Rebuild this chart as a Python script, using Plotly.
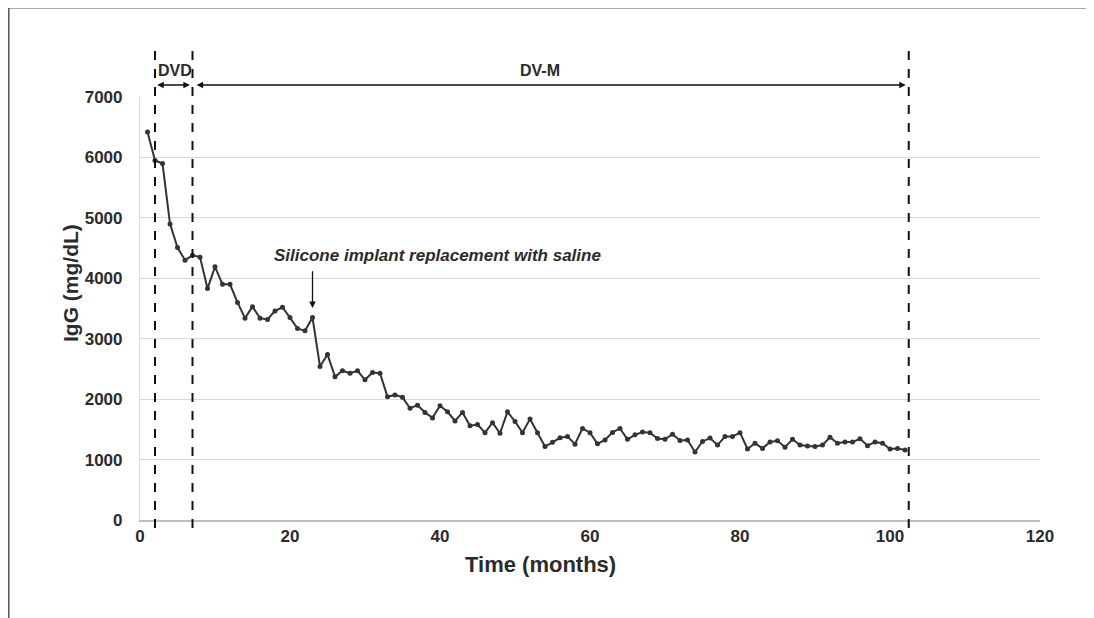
import plotly.graph_objects as go

months = [1, 2, 3, 4, 5, 6, 7, 8, 9, 10, 11, 12, 13, 14, 15, 16, 17, 18, 19, 20,
          21, 22, 23, 24, 25, 26, 27, 28, 29, 30, 31, 32, 33, 34, 35, 36, 37, 38, 39, 40,
          41, 42, 43, 44, 45, 46, 47, 48, 49, 50, 51, 52, 53, 54, 55, 56, 57, 58, 59, 60,
          61, 62, 63, 64, 65, 66, 67, 68, 69, 70, 71, 72, 73, 74, 75, 76, 77, 78, 79, 80,
          81, 82, 83, 84, 85, 86, 87, 88, 89, 90, 91, 92, 93, 94, 95, 96, 97, 98, 99, 100,
          101, 102]
igg = [6420, 5950, 5900, 4900, 4510, 4300, 4380, 4350, 3830, 4190,
       3900, 3900, 3600, 3340, 3530, 3340, 3320, 3460, 3520, 3350,
       3170, 3130, 3350, 2540, 2740, 2370, 2470, 2430, 2470, 2320,
       2440, 2430, 2040, 2070, 2030, 1850, 1900, 1780, 1690, 1890,
       1790, 1640, 1780, 1560, 1580, 1445, 1610, 1435, 1790, 1630,
       1445, 1670, 1445, 1215, 1285, 1360, 1380, 1255, 1515, 1445,
       1260, 1325, 1450, 1515, 1335, 1410, 1455, 1445, 1350, 1335,
       1420, 1315, 1325, 1125, 1300, 1355, 1240, 1380, 1380, 1445,
       1175, 1270, 1185, 1290, 1310, 1205, 1335, 1240, 1225, 1215,
       1240, 1370, 1270, 1290, 1290, 1345, 1230, 1290, 1270, 1175,
       1185, 1160]

phase_bounds = [2, 7, 102.5]
phase_labels = ["DVD", "DV-M"]
event_month = 23
event_text = "Silicone implant replacement with saline"

x_ticks = [0, 20, 40, 60, 80, 100, 120]
y_ticks = [0, 1000, 2000, 3000, 4000, 5000, 6000, 7000]

FONT = "Liberation Sans, Arial, sans-serif"
DARK = "#2b2b2b"

fig = go.Figure()
fig.add_trace(go.Scatter(
    x=months, y=igg, mode="lines+markers",
    line=dict(color="#333333", width=2),
    marker=dict(color="#333333", size=5),
    showlegend=False, hoverinfo="x+y",
))

# plot area in screenshot pixels: x 140..1040, y 97..520
def fx(p):
    return (p - 140) / 900.0

def fy(p):
    return (520 - p) / 423.0

shapes = []
for b in phase_bounds:
    shapes.append(dict(type="line", xref="x", yref="paper", x0=b, x1=b,
                       y0=fy(528), y1=fy(42),
                       line=dict(color="#111111", width=2, dash="dash")))
# outer frame lines (top and left)
shapes.append(dict(type="line", xref="paper", yref="paper",
                   x0=fx(8.8), x1=fx(1100), y0=fy(7.8), y1=fy(7.8),
                   line=dict(color="#555555", width=1.5)))
shapes.append(dict(type="line", xref="paper", yref="paper",
                   x0=fx(8.8), x1=fx(8.8), y0=fy(7.8), y1=fy(625),
                   line=dict(color="#555555", width=1.5)))

annotations = []
# double-headed phase arrows
arrow_specs = [(phase_bounds[0] + 0.1, phase_bounds[1] - 0.35, fy(85)),
               (phase_bounds[1] + 0.35, phase_bounds[2] - 0.4, fy(85))]
for x0, x1, yy in arrow_specs:
    annotations.append(dict(x=x1, y=yy, xref="x", yref="paper",
                            ax=x0, ay=0, axref="x", ayref="pixel",
                            text="", showarrow=True, arrowhead=2, arrowsize=1,
                            arrowwidth=1.3, arrowcolor="#111111",
                            arrowside="end+start", startarrowhead=2, startarrowsize=1))
annotations.append(dict(x=(phase_bounds[0] + phase_bounds[1]) / 2 + 0.1, y=fy(71),
                        xref="x", yref="paper", xanchor="center", yanchor="middle",
                        text="<b>" + phase_labels[0] + "</b>",
                        showarrow=False, font=dict(family=FONT, size=16, color=DARK)))
annotations.append(dict(x=53.3, y=fy(71), xref="x", yref="paper",
                        xanchor="center", yanchor="middle",
                        text="<b>" + phase_labels[1] + "</b>",
                        showarrow=False, font=dict(family=FONT, size=16, color=DARK)))
# event arrow and label
annotations.append(dict(x=event_month, y=3510, xref="x", yref="y",
                        ax=event_month, ay=4140, axref="x", ayref="y",
                        text="", showarrow=True, arrowhead=2, arrowsize=1,
                        arrowwidth=1.3, arrowcolor="#111111"))
annotations.append(dict(x=39.6, y=4370, xref="x", yref="y",
                        xanchor="center", yanchor="middle",
                        text="<b><i>" + event_text + "</i></b>", showarrow=False,
                        font=dict(family=FONT, size=17, color=DARK)))
# axis titles
annotations.append(dict(x=fx(540), y=fy(564), xref="paper", yref="paper",
                        xanchor="center", yanchor="middle",
                        text="<b>Time (months)</b>", showarrow=False,
                        font=dict(family=FONT, size=22, color=DARK)))
annotations.append(dict(x=fx(70), y=fy(283), xref="paper", yref="paper",
                        xanchor="center", yanchor="middle",
                        text="<b>IgG (mg/dL)</b>", showarrow=False, textangle=-90,
                        font=dict(family=FONT, size=21, color=DARK)))

fig.update_layout(
    width=1086, height=610,
    margin=dict(l=132, r=54, t=89, b=98),
    paper_bgcolor="white", plot_bgcolor="white",
    font=dict(family=FONT, color=DARK),
    shapes=shapes, annotations=annotations,
    xaxis=dict(range=[0, 120], tickvals=x_ticks, showgrid=False, zeroline=False,
               showline=True, linecolor="#bfbfbf", linewidth=1.5, ticks="",
               tickfont=dict(family=FONT, size=17, color=DARK, weight="bold")),
    yaxis=dict(range=[0, 7000], tickvals=y_ticks, showgrid=True, gridcolor="#d9d9d9",
               gridwidth=1.2, zeroline=False, showline=True, linecolor="#d9d9d9",
               linewidth=1.2, ticks="", ticklabelstandoff=13,
               tickfont=dict(family=FONT, size=17, color=DARK, weight="bold")),
)

fig.write_html("out.html")
